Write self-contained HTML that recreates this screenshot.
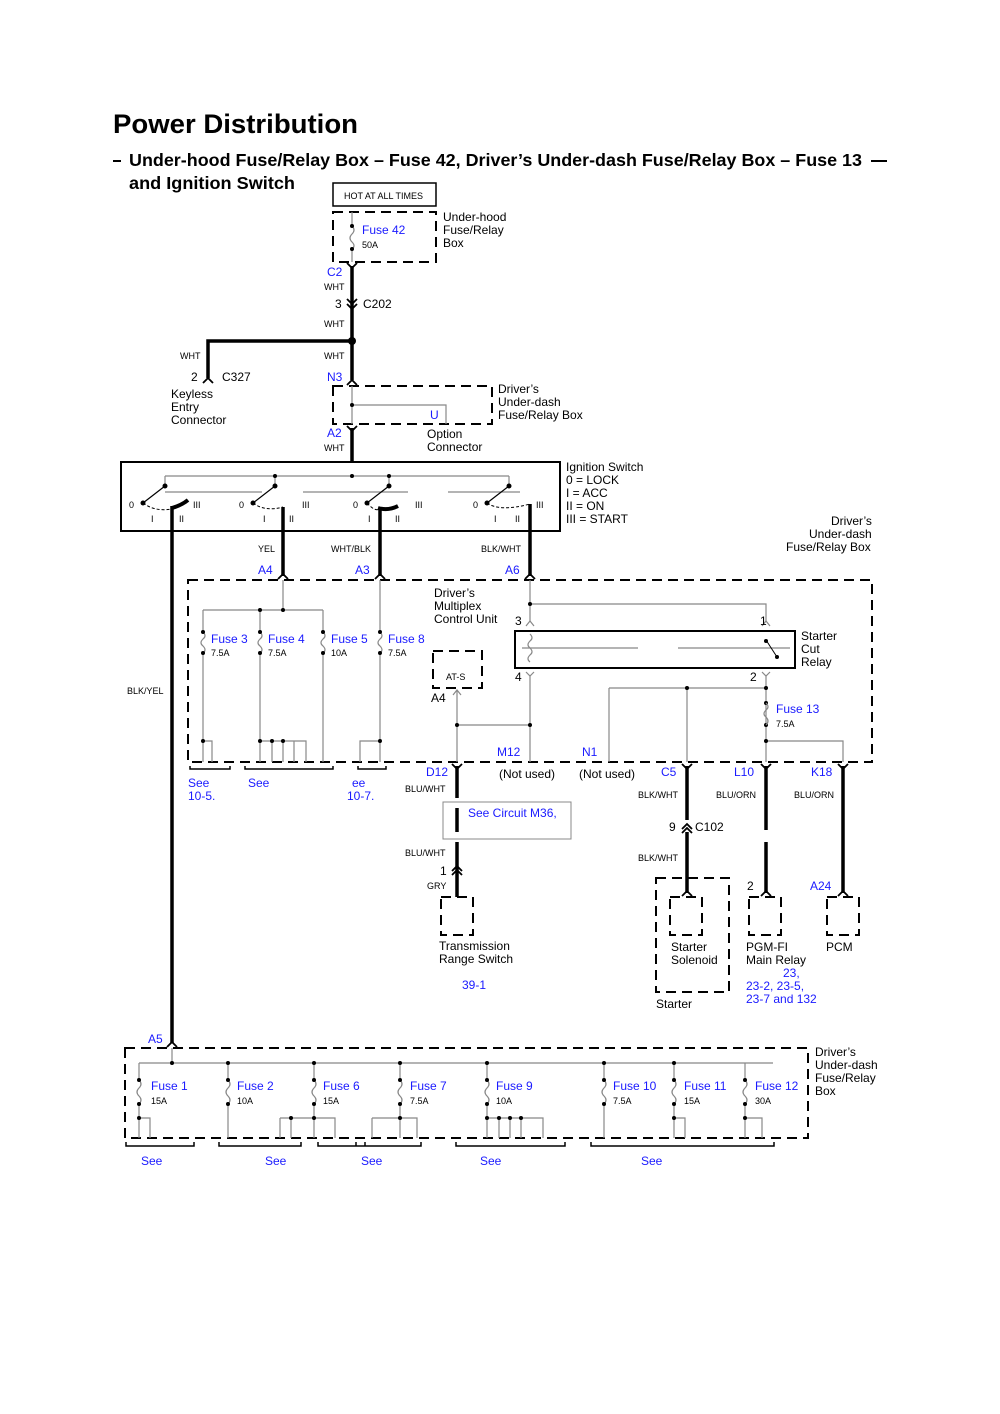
<!DOCTYPE html>
<html><head><meta charset="utf-8"><style>
body{margin:0;background:#fff}
svg{display:block}
text{font-family:"Liberation Sans",sans-serif;font-size:12px;fill:#000}
.b{fill:#1a1aff}
.s{font-size:9px}
.th{stroke:#000;stroke-width:3.5;fill:none}
.tn{stroke:#888;stroke-width:1.2;fill:none}
.dl{stroke:#000;stroke-width:2;fill:none;stroke-dasharray:10,6}
.cn{stroke:#000;stroke-width:1.8;fill:none}
</style></head><body>
<svg width="1000" height="1414" viewBox="0 0 1000 1414" xmlns="http://www.w3.org/2000/svg">
<text x="113" y="133" textLength="245" lengthAdjust="spacingAndGlyphs" style="font-size:27px;font-weight:bold">Power Distribution</text>
<line x1="113" y1="161" x2="121" y2="161" stroke="#000" stroke-width="2"/>
<line x1="871" y1="161" x2="887" y2="161" stroke="#000" stroke-width="2"/>
<text x="129" y="166" textLength="733" lengthAdjust="spacingAndGlyphs" style="font-size:17.5px;font-weight:bold">Under-hood Fuse/Relay Box – Fuse 42, Driver’s Under-dash Fuse/Relay Box – Fuse 13</text>
<text x="129" y="189" textLength="166" lengthAdjust="spacingAndGlyphs" style="font-size:17.5px;font-weight:bold">and Ignition Switch</text>

<!-- top -->
<rect x="333" y="183" width="103" height="23" fill="none" stroke="#000" stroke-width="1.5"/>
<text x="344" y="199" class="s">HOT AT ALL TIMES</text>
<rect x="333" y="212" width="103" height="50" class="dl"/>
<text x="443" y="221">Under-hood</text><text x="443" y="234">Fuse/Relay</text><text x="443" y="247">Box</text>
<path d="M352 212V226 q4 4 0 8 q-4 4 0 8 q4 4 0 7 V262" class="tn"/>
<circle cx="352" cy="226" r="2"/><circle cx="352" cy="249" r="2"/>
<text x="362" y="234" class="b">Fuse 42</text><text x="362" y="248" class="s">50A</text>
<path d="M352 266V341 M352 341V380" class="th"/>
<circle cx="352" cy="341" r="4"/>
<path d="M352 341H208V378" class="th"/>
<path class="cn" d="M347 263L352 268L357 263 M347 299L352 304L357 299 M347 304L352 309L357 304 M203 383L208 378L213 383 M347 385L352 380L357 385 M347 426L352 431L357 426"/>
<text x="327" y="276" class="b">C2</text>
<text x="324" y="290" class="s">WHT</text>
<text x="335" y="308">3</text><text x="363" y="308">C202</text>
<text x="324" y="327" class="s">WHT</text>
<text x="180" y="359" class="s">WHT</text><text x="324" y="359" class="s">WHT</text>
<text x="191" y="381">2</text><text x="222" y="381">C327</text>
<text x="171" y="398">Keyless</text><text x="171" y="411">Entry</text><text x="171" y="424">Connector</text>
<text x="327" y="381" class="b">N3</text>
<rect x="333" y="386" width="159" height="38" class="dl"/>
<path d="M352 386V424 M352 405H446V424" class="tn"/><circle cx="352" cy="405" r="2"/>
<text x="430" y="419" class="b">U</text>
<text x="498" y="393">Driver’s</text><text x="498" y="406">Under-dash</text><text x="498" y="419">Fuse/Relay Box</text>
<text x="327" y="437" class="b">A2</text><text x="324" y="451" class="s">WHT</text>
<text x="427" y="438">Option</text><text x="427" y="451">Connector</text>
<path d="M352 428V462" class="th"/>

<!-- ignition -->
<rect x="121" y="462" width="439" height="69" fill="none" stroke="#000" stroke-width="2"/>
<path d="M165 476H509 M165 476V486 M275 476V486 M389 476V486 M509 476V486 M165 492H262 M303 492H408 M448 492H520" class="tn"/>
<g fill="#000">
<circle cx="165" cy="486" r="2.5"/><circle cx="275" cy="486" r="2.5"/><circle cx="389" cy="486" r="2.5"/><circle cx="509" cy="486" r="2.5"/>
<circle cx="275" cy="476" r="2"/><circle cx="352" cy="476" r="2"/><circle cx="389" cy="476" r="2"/>
<circle cx="143" cy="503" r="2.5"/><circle cx="253" cy="503" r="2.5"/><circle cx="367" cy="503" r="2.5"/><circle cx="487" cy="503" r="2.5"/>
</g>
<path d="M165 486L143 503 M275 486L253 503 M389 486L367 503 M509 486L487 503" stroke="#000" stroke-width="1.2"/>
<path d="M143 503Q155 512 172 509 M253 503Q265 512 283 507 M367 503Q375 512 380 509 M487 503Q500 512 530 504" stroke="#000" stroke-width="1" stroke-dasharray="3,2" fill="none"/>
<path d="M172 508Q182 505 188 500 M378 508Q388 511 398 506" stroke="#000" stroke-width="4" fill="none"/>
<text x="129" y="508" class="s">0</text><text x="239" y="508" class="s">0</text><text x="353" y="508" class="s">0</text><text x="473" y="508" class="s">0</text>
<text x="193" y="508" class="s">III</text><text x="302" y="508" class="s">III</text><text x="415" y="508" class="s">III</text><text x="536" y="508" class="s">III</text>
<text x="151" y="522" class="s">I</text><text x="179" y="522" class="s">II</text><text x="263" y="522" class="s">I</text><text x="289" y="522" class="s">II</text>
<text x="368" y="522" class="s">I</text><text x="395" y="522" class="s">II</text><text x="494" y="522" class="s">I</text><text x="515" y="522" class="s">II</text>
<text x="566" y="471">Ignition Switch</text><text x="566" y="484">0 = LOCK</text><text x="566" y="497">I = ACC</text><text x="566" y="510">II = ON</text><text x="566" y="523">III = START</text>
<text x="831" y="525">Driver’s</text><text x="809" y="538">Under-dash</text><text x="786" y="551">Fuse/Relay Box</text>

<path d="M172 506V1043 M283 507V576 M380 509V576 M530 504V576" class="th"/>
<path class="cn" d="M278 579L283 574L288 579 M375 579L380 574L385 579 M525 579L530 574L535 579 M167 1047L172 1042L177 1047"/>
<text x="258" y="552" class="s">YEL</text><text x="331" y="552" class="s">WHT/BLK</text><text x="481" y="552" class="s">BLK/WHT</text>
<text x="258" y="574" class="b">A4</text><text x="355" y="574" class="b">A3</text><text x="505" y="574" class="b">A6</text>
<text x="127" y="694" class="s">BLK/YEL</text>

<!-- middle box -->
<rect x="188" y="580" width="684" height="182" class="dl"/>
<g class="tn">
<path d="M283 580V610 M203 610H323 M203 610V632 M260 610V632 M323 610V632 M380 580V632"/>
<path d="M203 632q4 4 0 7 q-4 4 0 7 q4 4 0 7 V762 M260 632q4 4 0 7 q-4 4 0 7 q4 4 0 7 V762 M323 632q4 4 0 7 q-4 4 0 7 q4 4 0 7 V762 M380 632q4 4 0 7 q-4 4 0 7 q4 4 0 7 V762"/>
<path d="M203 741H212V762 M260 741H306V762 M272 741V762 M283 741V762 M294 741V762 M380 741H360V762"/>
<path d="M530 580V621 M530 604H766V621 M530 676V762 M457 690V762 M457 725H530 M766 676V762 M609 688H766 M609 688V762 M687 688V762 M766 741H843V762"/>
<path d="M522 648H638 M678 648H790"/>
</g>
<g fill="#000">
<circle cx="283" cy="610" r="2"/><circle cx="203" cy="632" r="2"/><circle cx="203" cy="653" r="2"/><circle cx="260" cy="632" r="2"/><circle cx="260" cy="653" r="2"/><circle cx="323" cy="632" r="2"/><circle cx="323" cy="653" r="2"/><circle cx="380" cy="632" r="2"/><circle cx="380" cy="653" r="2"/>
<circle cx="260" cy="610" r="2"/><circle cx="203" cy="741" r="2"/><circle cx="260" cy="741" r="2"/><circle cx="272" cy="741" r="2"/><circle cx="283" cy="741" r="2"/><circle cx="380" cy="741" r="2"/>
<circle cx="530" cy="604" r="2"/><circle cx="457" cy="725" r="2"/><circle cx="530" cy="725" r="2"/><circle cx="687" cy="688" r="2"/><circle cx="766" cy="688" r="2"/><circle cx="766" cy="703" r="2"/><circle cx="766" cy="725" r="2"/><circle cx="766" cy="741" r="2"/>
</g>
<path d="M766 703q4 4 0 7 q-4 4 0 7 q4 4 0 8" class="tn"/>
<path class="tn" d="M526 626L530 621L534 626 M762 626L766 621L770 626 M526 672L530 676L534 672 M762 672L766 676L770 672 M453 695L457 690L461 695"/>
<text x="211" y="643" class="b">Fuse 3</text><text x="211" y="656" class="s">7.5A</text>
<text x="268" y="643" class="b">Fuse 4</text><text x="268" y="656" class="s">7.5A</text>
<text x="331" y="643" class="b">Fuse 5</text><text x="331" y="656" class="s">10A</text>
<text x="388" y="643" class="b">Fuse 8</text><text x="388" y="656" class="s">7.5A</text>
<text x="434" y="597">Driver’s</text><text x="434" y="610">Multiplex</text><text x="434" y="623">Control Unit</text>
<text x="515" y="625">3</text><text x="760" y="625">1</text><text x="515" y="681">4</text><text x="750" y="681">2</text>
<rect x="515" y="631" width="280" height="37" fill="none" stroke="#000" stroke-width="2"/>
<path d="M530 634q4 4 0 7 q-4 4 0 7 q4 4 0 7 q-4 4 0 7" class="tn"/>
<path d="M766 640L777 657" stroke="#000" stroke-width="1"/><circle cx="766" cy="641" r="2"/><circle cx="777" cy="657" r="2"/>
<text x="801" y="640">Starter</text><text x="801" y="653">Cut</text><text x="801" y="666">Relay</text>
<rect x="433" y="651" width="49" height="37" class="dl"/>
<text x="446" y="680" class="s">AT-S</text><text x="431" y="702">A4</text>
<text x="776" y="713" class="b">Fuse 13</text><text x="776" y="727" class="s">7.5A</text>
<text x="497" y="756" class="b">M12</text><text x="582" y="756" class="b">N1</text>

<path d="M190 766v3H230v-3 M245 766v3H333v-3 M358 766v3H386v-3" stroke="#000" stroke-width="1.5" fill="none"/>
<text x="188" y="787" class="b">See</text><text x="188" y="800" class="b">10-5.</text>
<text x="248" y="787" class="b">See</text>
<text x="352" y="787" class="b">ee</text><text x="347" y="800" class="b">10-7.</text>
<text x="426" y="776" class="b">D12</text><text x="499" y="778">(Not used)</text><text x="579" y="778">(Not used)</text>
<text x="661" y="776" class="b">C5</text><text x="734" y="776" class="b">L10</text><text x="811" y="776" class="b">K18</text>
<text x="405" y="792" class="s">BLU/WHT</text>
<text x="638" y="798" class="s">BLK/WHT</text><text x="716" y="798" class="s">BLU/ORN</text><text x="794" y="798" class="s">BLU/ORN</text>
<path d="M443 802H571V839H443Z" fill="none" stroke="#888" stroke-width="1"/>
<path d="M457 766V798 M457 808V832 M457 842V897 M687 766V820 M687 832V893 M766 766V830 M766 842V893 M843 766V893" class="th"/>
<path class="cn" d="M452 764L457 769L462 764 M682 764L687 769L692 764 M761 764L766 769L771 764 M838 764L843 769L848 764 M682 829L687 824L692 829 M682 833L687 828L692 833 M452 871L457 866L462 871 M452 875L457 870L462 875 M682 896L687 891L692 896 M761 896L766 891L771 896 M838 896L843 891L848 896"/>
<text x="468" y="817" class="b">See Circuit M36,</text>
<text x="669" y="831">9</text><text x="695" y="831">C102</text>
<text x="405" y="856" class="s">BLU/WHT</text><text x="638" y="861" class="s">BLK/WHT</text>
<text x="440" y="875">1</text><text x="427" y="889" class="s">GRY</text>
<text x="747" y="890">2</text><text x="810" y="890" class="b">A24</text>
<rect x="441" y="897" width="32" height="38" class="dl"/>
<rect x="656" y="878" width="73" height="114" class="dl"/>
<rect x="670" y="897" width="32" height="38" class="dl"/>
<rect x="749" y="897" width="32" height="38" class="dl"/>
<rect x="827" y="897" width="32" height="38" class="dl"/>
<text x="439" y="950">Transmission</text><text x="439" y="963">Range Switch</text>
<text x="462" y="989" class="b">39-1</text>
<text x="671" y="951">Starter</text><text x="671" y="964">Solenoid</text><text x="656" y="1008">Starter</text>
<text x="746" y="951">PGM-FI</text><text x="746" y="964">Main Relay</text>
<text x="783" y="977" class="b">23,</text><text x="746" y="990" class="b">23-2, 23-5,</text><text x="746" y="1003" class="b">23-7 and 132</text>
<text x="826" y="951">PCM</text>

<!-- bottom box -->
<text x="148" y="1043" class="b">A5</text>
<rect x="125" y="1048" width="683" height="90" class="dl"/>
<g class="tn">
<path d="M172 1048V1063 M139 1063H773"/>
<path d="M139 1063V1080q4 4 0 8 q-4 4 0 8 q4 4 0 8 V1138 M228 1063V1080q4 4 0 8 q-4 4 0 8 q4 4 0 8 V1138 M314 1063V1080q4 4 0 8 q-4 4 0 8 q4 4 0 8 V1138 M400 1063V1080q4 4 0 8 q-4 4 0 8 q4 4 0 8 V1138 M487 1063V1080q4 4 0 8 q-4 4 0 8 q4 4 0 8 V1138 M604 1063V1080q4 4 0 8 q-4 4 0 8 q4 4 0 8 V1138 M674 1063V1080q4 4 0 8 q-4 4 0 8 q4 4 0 8 V1138 M745 1063V1080q4 4 0 8 q-4 4 0 8 q4 4 0 8 V1138"/>
<path d="M139 1118H150V1138 M280 1118H335V1138 M280 1118V1138 M291 1118V1138 M372 1118H417V1138 M372 1118V1138 M487 1118H543V1138 M499 1118V1138 M510 1118V1138 M521 1118V1138 M674 1118H685V1138 M745 1118H762V1138"/>
</g>
<g fill="#000">
<circle cx="172" cy="1063" r="2"/><circle cx="228" cy="1063" r="2"/><circle cx="314" cy="1063" r="2"/><circle cx="400" cy="1063" r="2"/><circle cx="487" cy="1063" r="2"/><circle cx="604" cy="1063" r="2"/><circle cx="674" cy="1063" r="2"/>
<circle cx="139" cy="1080" r="2"/><circle cx="228" cy="1080" r="2"/><circle cx="314" cy="1080" r="2"/><circle cx="400" cy="1080" r="2"/><circle cx="487" cy="1080" r="2"/><circle cx="604" cy="1080" r="2"/><circle cx="674" cy="1080" r="2"/><circle cx="745" cy="1080" r="2"/>
<circle cx="139" cy="1104" r="2"/><circle cx="228" cy="1104" r="2"/><circle cx="314" cy="1104" r="2"/><circle cx="400" cy="1104" r="2"/><circle cx="487" cy="1104" r="2"/><circle cx="604" cy="1104" r="2"/><circle cx="674" cy="1104" r="2"/><circle cx="745" cy="1104" r="2"/>
<circle cx="139" cy="1118" r="2"/><circle cx="291" cy="1118" r="2"/><circle cx="314" cy="1118" r="2"/><circle cx="400" cy="1118" r="2"/><circle cx="487" cy="1118" r="2"/><circle cx="499" cy="1118" r="2"/><circle cx="510" cy="1118" r="2"/><circle cx="521" cy="1118" r="2"/><circle cx="674" cy="1118" r="2"/><circle cx="745" cy="1118" r="2"/>
</g>
<text x="151" y="1090" class="b">Fuse 1</text><text x="151" y="1104" class="s">15A</text>
<text x="237" y="1090" class="b">Fuse 2</text><text x="237" y="1104" class="s">10A</text>
<text x="323" y="1090" class="b">Fuse 6</text><text x="323" y="1104" class="s">15A</text>
<text x="410" y="1090" class="b">Fuse 7</text><text x="410" y="1104" class="s">7.5A</text>
<text x="496" y="1090" class="b">Fuse 9</text><text x="496" y="1104" class="s">10A</text>
<text x="613" y="1090" class="b">Fuse 10</text><text x="613" y="1104" class="s">7.5A</text>
<text x="684" y="1090" class="b">Fuse 11</text><text x="684" y="1104" class="s">15A</text>
<text x="755" y="1090" class="b">Fuse 12</text><text x="755" y="1104" class="s">30A</text>
<text x="815" y="1056">Driver’s</text><text x="815" y="1069">Under-dash</text><text x="815" y="1082">Fuse/Relay</text><text x="815" y="1095">Box</text>
<path d="M126 1142v4H194v-4 M219 1142v4H301v-4 M318 1142v4H365v-4 M356 1142v4H421v-4 M456 1142v4H565v-4 M591 1142v4H774v-4" stroke="#000" stroke-width="1.5" fill="none"/>
<text x="141" y="1165" class="b">See</text><text x="265" y="1165" class="b">See</text><text x="361" y="1165" class="b">See</text><text x="480" y="1165" class="b">See</text><text x="641" y="1165" class="b">See</text>
</svg>
</body></html>
